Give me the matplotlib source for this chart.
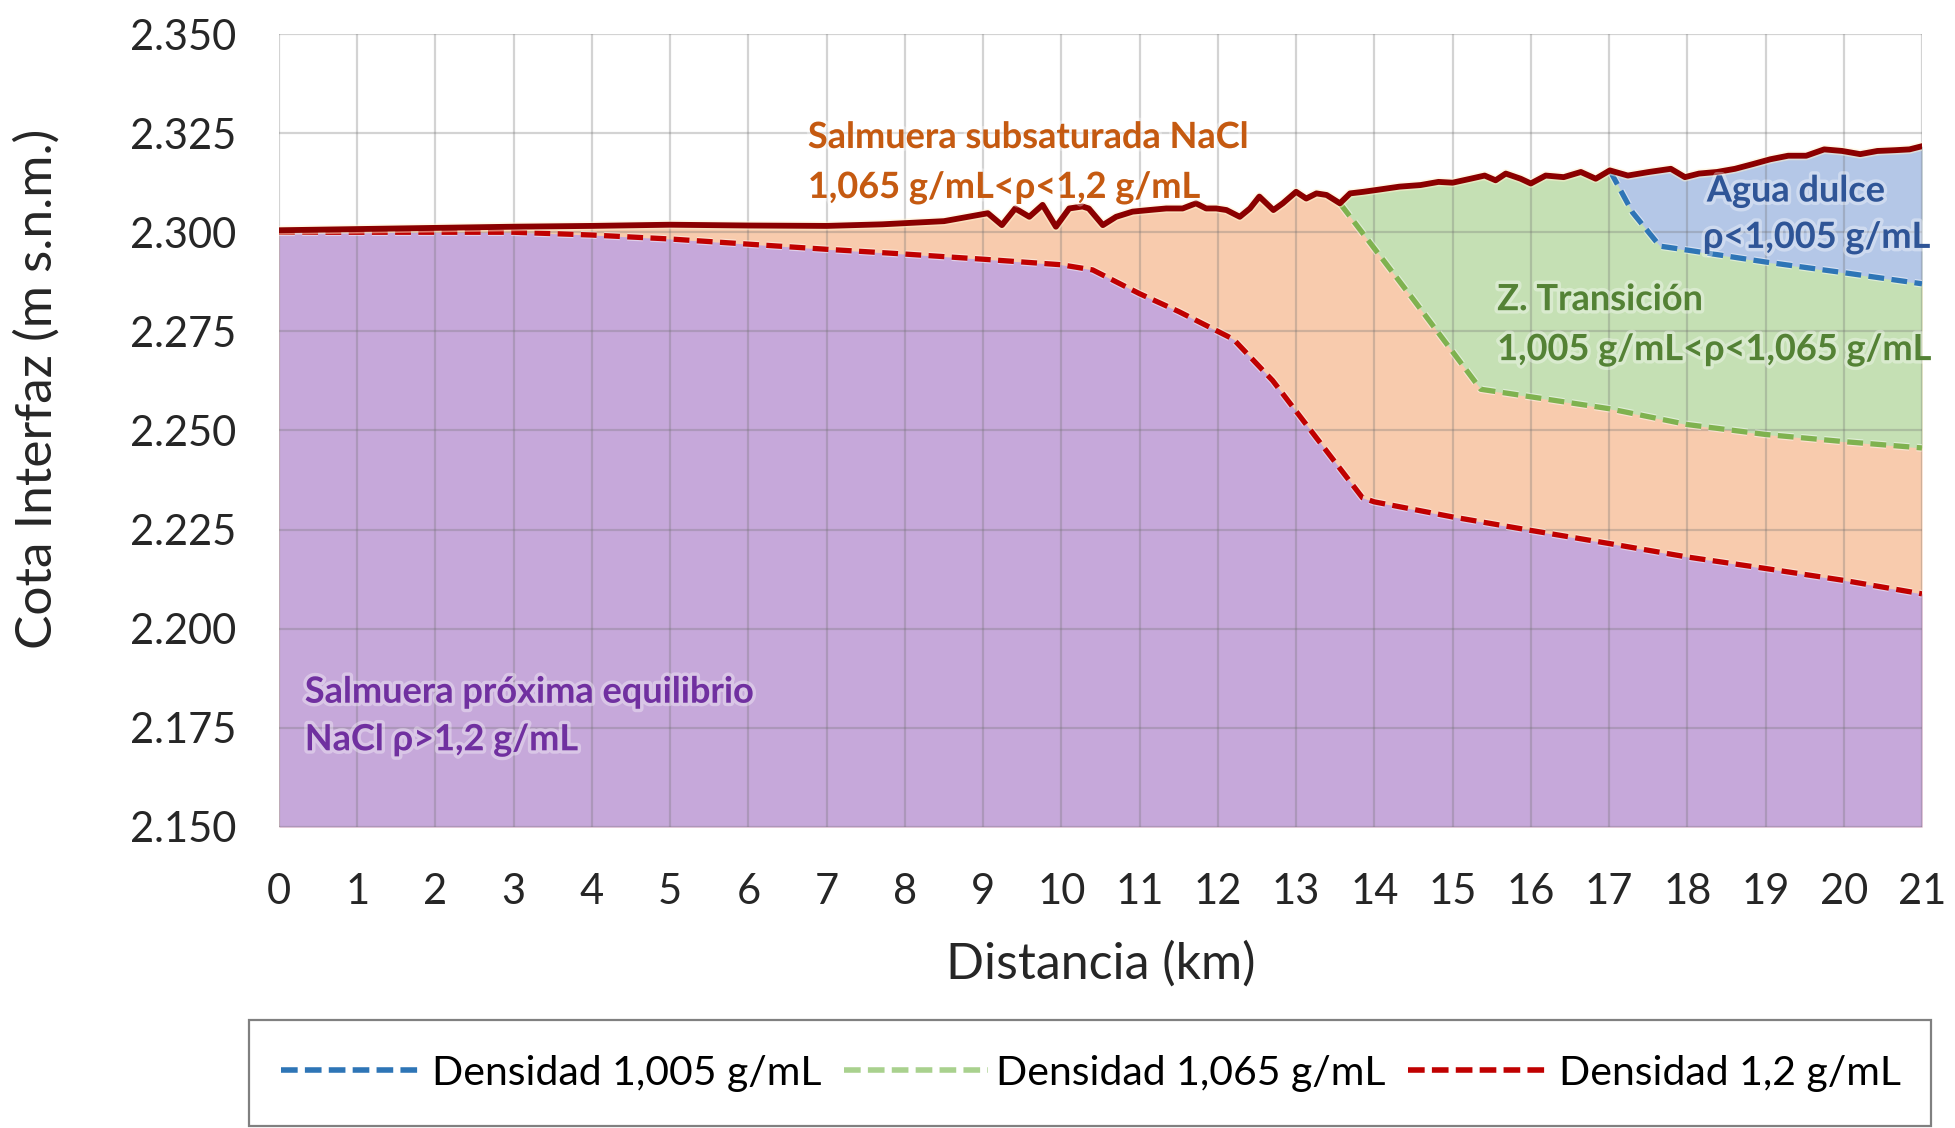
import numpy as np
import matplotlib
matplotlib.use("Agg")
import matplotlib.pyplot as plt
import matplotlib.patheffects as pe
from matplotlib.lines import Line2D
from matplotlib.patches import Rectangle

plt.rcParams['font.family'] = ['Lato', 'DejaVu Sans']

# --- data ---
# surface of the brine (top solid line)
top_km = [0, 1, 2, 3, 4, 5, 6, 7, 7.71, 8.5, 9.06, 9.24, 9.41, 9.59, 9.76, 9.93,
          10.10, 10.27, 10.35, 10.53, 10.70, 10.91, 11.12, 11.34, 11.55, 11.72,
          11.85, 11.98, 12.11, 12.28, 12.41, 12.53, 12.71, 12.83, 13.00, 13.13,
          13.26, 13.39, 13.56, 13.69, 13.86, 14.04, 14.32, 14.59, 14.82, 15.0,
          15.23, 15.41, 15.55, 15.68, 15.87, 16.0, 16.19, 16.42, 16.64, 16.83,
          17.01, 17.24, 17.51, 17.79, 17.97, 18.15, 18.38, 18.61, 18.84, 19.06,
          19.29, 19.52, 19.75, 19.98, 20.21, 20.43, 20.66, 20.84, 21.0]
top_cota = [2.3005, 2.3008, 2.3011, 2.3014, 2.3016, 2.3019, 2.3017, 2.3016, 2.3020,
            2.3028, 2.3048, 2.3018, 2.3060, 2.3039, 2.3069, 2.3014, 2.3060, 2.3065,
            2.3060, 2.3018, 2.3039, 2.3052, 2.3056, 2.3060, 2.3060, 2.3073, 2.3060,
            2.3060, 2.3056, 2.3039, 2.3060, 2.3090, 2.3056, 2.3073, 2.3102, 2.3085,
            2.3098, 2.3094, 2.3073, 2.3098, 2.3102, 2.3107, 2.3115, 2.3119, 2.3127,
            2.3125, 2.3135, 2.3143, 2.3131, 2.3148, 2.3135, 2.3123, 2.3143, 2.3139,
            2.3152, 2.3135, 2.3156, 2.3143, 2.3152, 2.3160, 2.3139, 2.3148, 2.3152,
            2.3160, 2.3172, 2.3184, 2.3193, 2.3193, 2.3209, 2.3205, 2.3197, 2.3205,
            2.3207, 2.3209, 2.3217]

# density 1,2 g/mL interface
d12_km = [0, 3, 4, 5, 6, 7, 8, 9, 10, 10.4, 11, 11.5, 12.2, 12.7, 13.25, 13.85,
          14, 15, 16, 17, 18, 19, 20, 21]
d12_cota = [2.3000, 2.3000, 2.2993, 2.2983, 2.2970, 2.2957, 2.2945, 2.2932, 2.2918,
            2.2905, 2.2845, 2.2800, 2.2730, 2.2626, 2.2484, 2.2330, 2.2320, 2.2282,
            2.2248, 2.2215, 2.2181, 2.2152, 2.2122, 2.2088]

# density 1,065 g/mL interface
d1065_km = [13.56, 14.5, 15.36, 16, 17, 18, 19, 20, 21]
d1065_cota = [2.3073, 2.2830, 2.2604, 2.2585, 2.2555, 2.2515, 2.2490, 2.2472, 2.2456]

# density 1,005 g/mL interface
d1005_km = [17.01, 17.3, 17.65, 18, 19, 20, 21]
d1005_cota = [2.3156, 2.3050, 2.2965, 2.2955, 2.2925, 2.2898, 2.2870]

x_ticks = list(range(0, 22))
y_ticks = [2.150, 2.175, 2.200, 2.225, 2.250, 2.275, 2.300, 2.325, 2.350]
y_labels = ['2.150', '2.175', '2.200', '2.225', '2.250', '2.275', '2.300', '2.325', '2.350']

series_names = ['Densidad 1,005 g/mL', 'Densidad 1,065 g/mL', 'Densidad 1,2 g/mL']

# --- figure ---
fig = plt.figure(figsize=(19.56, 11.28), dpi=100)
ax = fig.add_axes([279 / 1956, 1 - 827 / 1128, (1922 - 279) / 1956, (827 - 34) / 1128])

base = 2.150
top_km_a = np.array(top_km)
top_cota_a = np.array(top_cota)

# orange region: everything under the surface
ax.fill_between(top_km_a, base, top_cota_a, color='#f8cbad', lw=0, zorder=1)

# green region: between 1,065 interface and surface
xg = np.union1d(top_km_a[top_km_a >= d1065_km[0]], d1065_km)
ax.fill_between(xg, np.interp(xg, d1065_km, d1065_cota), np.interp(xg, top_km, top_cota),
                color='#c5e0b4', lw=0, zorder=1.1)

# blue region: between 1,005 interface and surface
xb = np.union1d(top_km_a[top_km_a >= d1005_km[0]], d1005_km)
ax.fill_between(xb, np.interp(xb, d1005_km, d1005_cota), np.interp(xb, top_km, top_cota),
                color='#b4c7e7', lw=0, zorder=1.2)

# purple region: below 1,2 interface
ax.fill_between(d12_km, base, d12_cota, color='#c6a8da', lw=0, zorder=1.3)

ax.set_xlim(0, 21)
ax.set_ylim(2.150, 2.350)
ax.set_xticks(x_ticks)
ax.set_yticks(y_ticks)
ax.set_yticklabels(y_labels)
ax.grid(True, color='#707070', alpha=0.3, lw=1.6, zorder=2)
ax.set_axisbelow(False)
for s in ax.spines.values():
    s.set_visible(False)
ax.tick_params(length=0, labelsize=30, colors='#262626')
ax.tick_params(axis='y', pad=31)
ax.tick_params(axis='x', pad=33)

glow = [pe.withStroke(linewidth=5.5, foreground='white', alpha=0.45)]

ax.plot(top_km, top_cota, color='#8b0000', lw=4.2, zorder=5,
        path_effects=[pe.withStroke(linewidth=6.5, foreground='#fff3d0', alpha=0.5)])
ax.plot(d1005_km, d1005_cota, color='#2e75b6', lw=3.8, dashes=(3, 1.4), zorder=4,
        path_effects=glow)
ax.plot(d1065_km, d1065_cota, color='#7fb24f', lw=3.8, dashes=(3, 1.4), zorder=4,
        path_effects=glow)
ax.plot(d12_km, d12_cota, color='#c00000', lw=3.8, dashes=(3, 1.4), zorder=4,
        path_effects=glow)

ax.set_xlabel('Distancia (km)', fontsize=36, color='#262626', labelpad=22)
ax.set_ylabel('Cota Interfaz (m s.n.m.)', fontsize=37, color='#262626')
ax.yaxis.set_label_coords(-0.133, 0.552)

# region labels
tglow = [pe.withStroke(linewidth=5, foreground='white', alpha=0.35)]
labels = [
    (6.76, 2.3239, 'Salmuera subsaturada NaCl', '#c55a11'),
    (6.76, 2.3113, '1,065 g/mL<ρ<1,2 g/mL', '#c55a11'),
    (0.33, 2.1840, 'Salmuera próxima equilibrio', '#7030a0'),
    (0.33, 2.1720, 'NaCl ρ>1,2 g/mL', '#7030a0'),
    (15.57, 2.2830, 'Z. Transición', '#548235'),
    (15.57, 2.2704, '1,005 g/mL<ρ<1,065 g/mL', '#548235'),
    (18.25, 2.3104, 'Agua dulce', '#2f5597'),
    (18.20, 2.2987, 'ρ<1,005 g/mL', '#2f5597'),
]
for x, y, t, c in labels:
    ax.text(x, y, t, color=c, fontsize=26, fontweight='bold', ha='left', va='center',
            zorder=6, path_effects=tglow)

# legend with its own frame
fig.patches.append(Rectangle((249 / 1956, 2 / 1128), (1931 - 249) / 1956, 106 / 1128,
                             transform=fig.transFigure, fill=False, edgecolor='#808080', lw=1.6))
handles = [Line2D([], [], color='#2e75b6', lw=4, dashes=(3, 1.3)),
           Line2D([], [], color='#a9d18e', lw=4, dashes=(3, 1.3)),
           Line2D([], [], color='#c00000', lw=4, dashes=(3, 1.3))]
fig.legend(handles, series_names, loc='center', bbox_to_anchor=(1091 / 1956, 1 - 1073 / 1128),
           ncol=3, frameon=False, fontsize=29.5, handlelength=3.5, handletextpad=0.2,
           columnspacing=0.55, labelcolor='#000000')

fig.savefig('out.png', dpi=100)
